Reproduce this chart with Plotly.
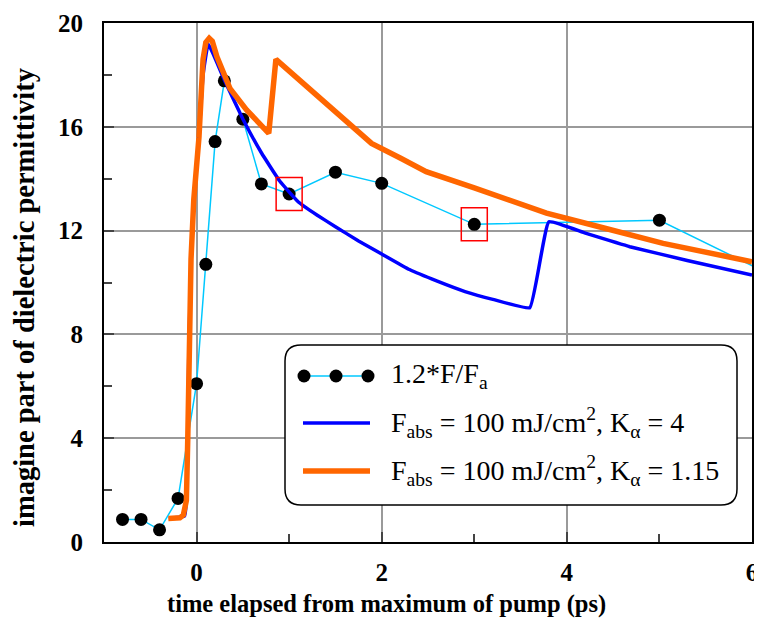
import plotly.graph_objects as go

# ---- data ----
t_meas = [-0.8, -0.6, -0.4, -0.2, 0.0, 0.1, 0.2, 0.3, 0.5, 0.7, 1.0, 1.5, 2.0, 3.0, 5.0, 7.0]
eps_meas = [0.87, 0.87, 0.47, 1.68, 6.1, 10.7, 15.43, 17.77, 16.29, 13.8, 13.41, 14.25, 13.82, 12.24, 12.4, 8.9]
highlight_idx = [10, 13]  # points marked with red squares (t = 1 ps and 3 ps)

t_blue = [-0.3, -0.13, -0.11, -0.095, -0.085, -0.06, -0.03, 0.026, 0.07, 0.126, 0.3, 0.5,
          0.7, 0.9, 1.1, 1.3, 1.5, 1.75, 2.0, 2.3, 2.6, 2.9, 3.2, 3.6, 3.806, 4.2, 4.68, 5.3, 6.0]
eps_blue = [0.9, 1.0, 1.6, 4.0, 7.0, 10.9, 13.2, 15.6, 18.0, 19.19, 17.8, 16.3,
            15.0, 13.9, 13.1, 12.6, 12.15, 11.6, 11.1, 10.5, 10.05, 9.65, 9.35, 9.03, 12.34, 11.9, 11.38, 10.85, 10.29]

t_orange = [-0.305, -0.18, -0.143, -0.11, -0.095, -0.085, -0.06, -0.03, 0.026, 0.07, 0.1, 0.137,
            0.17, 0.22, 0.36, 0.54, 0.78, 0.857, 1.89, 2.2, 2.48, 3.0, 3.78, 4.4, 5.04, 6.0]
eps_orange = [0.91, 0.93, 1.04, 1.6, 4.0, 7.0, 10.9, 13.2, 15.6, 18.6, 19.25, 19.41,
              19.3, 18.7, 17.48, 16.65, 15.75, 18.6, 15.36, 14.8, 14.27, 13.65, 12.67, 12.1, 11.51, 10.8]

x_ticks = [0, 2, 4, 6]
y_ticks = [0, 4, 8, 12, 16, 20]
x_minor = [1, 3, 5]
y_minor = [2, 6, 10, 14, 18]

legend_labels = [
    "1.2*F/F<sub>a</sub>",
    "F<sub>abs</sub> = 100 mJ/cm<sup>2</sup>, K<sub>α</sub> = 4",
    "F<sub>abs</sub> = 100 mJ/cm<sup>2</sup>, K<sub>α</sub> = 1.15",
]

# ---- style ----
FONT = "Liberation Serif"
CYAN = "#00C8FF"
BLUE = "#0000FF"
ORANGE = "#FF6600"
OFF = 8  # page body margin offsets the figure on screen
W, H = 762 - OFF, 619 - OFF
# plot area in screen pixels
SL, SR, ST, SB = 104, 752, 23, 542
ML, MT = SL - OFF, ST - OFF
MR, MB = W - (SR - OFF), H - (SB - OFF)
PW, PH = SR - SL, SB - ST


def px(xs):
    return (xs - SL) / PW


def py(ys):
    return (SB - ys) / PH


fig = go.Figure()
fig.add_trace(go.Scatter(x=t_meas, y=eps_meas, mode="lines+markers",
                         line=dict(color=CYAN, width=1.5),
                         marker=dict(color="black", size=13), showlegend=False))
fig.add_trace(go.Scatter(x=t_blue, y=eps_blue, mode="lines",
                         line=dict(color=BLUE, width=3.5, shape="spline", smoothing=0.3),
                         showlegend=False))
fig.add_trace(go.Scatter(x=t_orange, y=eps_orange, mode="lines",
                         line=dict(color=ORANGE, width=5.5), showlegend=False))

shapes = []
# red squares around highlighted points
for i in highlight_idx:
    shapes.append(dict(type="rect", xref="x", yref="y",
                       xsizemode="pixel", ysizemode="pixel",
                       xanchor=t_meas[i], yanchor=eps_meas[i],
                       x0=-13, x1=13, y0=-16.5, y1=16.5,
                       line=dict(color="red", width=1.5), layer="above"))

# legend box (rounded)
bx0, bx1, by0, by1, r = 285, 737, 345, 505, 16
X0, X1, Y0, Y1 = px(bx0), px(bx1), py(by1), py(by0)
rx, ry = r / PW, r / PH
path = (f"M {X0+rx},{Y0} L {X1-rx},{Y0} Q {X1},{Y0} {X1},{Y0+ry} "
        f"L {X1},{Y1-ry} Q {X1},{Y1} {X1-rx},{Y1} L {X0+rx},{Y1} "
        f"Q {X0},{Y1} {X0},{Y1-ry} L {X0},{Y0+ry} Q {X0},{Y0} {X0+rx},{Y0} Z")
shapes.append(dict(type="path", xref="paper", yref="paper", path=path,
                   fillcolor="white", line=dict(color="black", width=1.5), layer="above"))

legend_rows = [376, 423, 471]
# sample 1: cyan line with three dots
shapes.append(dict(type="line", xref="paper", yref="paper",
                   x0=px(304), x1=px(368), y0=py(legend_rows[0]), y1=py(legend_rows[0]),
                   line=dict(color=CYAN, width=1.5), layer="above"))
for cx in (304, 336, 368):
    shapes.append(dict(type="circle", xref="paper", yref="paper",
                       xsizemode="pixel", ysizemode="pixel",
                       xanchor=px(cx), yanchor=py(legend_rows[0]),
                       x0=-6.5, x1=6.5, y0=-6.5, y1=6.5,
                       fillcolor="black", line=dict(color="black", width=0), layer="above"))
shapes.append(dict(type="line", xref="paper", yref="paper",
                   x0=px(303), x1=px(370), y0=py(legend_rows[1]), y1=py(legend_rows[1]),
                   line=dict(color=BLUE, width=3.5), layer="above"))
shapes.append(dict(type="line", xref="paper", yref="paper",
                   x0=px(303), x1=px(370), y0=py(legend_rows[2]), y1=py(legend_rows[2]),
                   line=dict(color=ORANGE, width=5.5), layer="above"))

annotations = []
for lab, yr in zip(legend_labels, legend_rows):
    annotations.append(dict(text=lab, xref="paper", yref="paper", x=px(389), y=py(yr - 1),
                            xanchor="left", yanchor="middle", showarrow=False,
                            font=dict(family=FONT, size=28, color="black")))
annotations.append(dict(text="imagine part of dielectric permittivity", textangle=-90,
                        xref="paper", yref="paper", x=px(25), y=py(298),
                        xanchor="center", yanchor="middle", showarrow=False,
                        font=dict(family=FONT, size=28.5, color="black", weight="bold")))
annotations.append(dict(text="time elapsed from maximum of pump (ps)",
                        xref="paper", yref="paper", x=px(386), y=py(604),
                        xanchor="center", yanchor="middle", showarrow=False,
                        font=dict(family=FONT, size=24.5, color="black", weight="bold")))

axis_common = dict(showline=True, linecolor="black", linewidth=2, mirror=True,
                   showgrid=True, gridcolor="#9a9a9a", gridwidth=1.5,
                   ticks="inside", ticklen=10, tickwidth=2, tickcolor="#444",
                   zeroline=False, automargin=False,
                   tickfont=dict(family=FONT, size=25, color="black", weight="bold"))

fig.update_layout(
    width=W, height=H, margin=dict(l=ML, r=MR, t=MT, b=MB, autoexpand=False),
    paper_bgcolor="white", plot_bgcolor="white",
    font=dict(family=FONT, color="black"),
    showlegend=False,
    xaxis=dict(range=[-1, 6], tickmode="array", tickvals=x_ticks,
               ticktext=[str(v) for v in x_ticks], ticklabelstandoff=7,
               minor=dict(tickmode="array", tickvals=x_minor, ticks="inside", ticklen=8,
                          tickwidth=1.5, tickcolor="#444", showgrid=False),
               **axis_common),
    yaxis=dict(range=[0, 20], tickmode="array", tickvals=y_ticks,
               ticktext=[str(v) for v in y_ticks], ticklabelstandoff=14,
               minor=dict(tickmode="array", tickvals=y_minor, ticks="inside", ticklen=8,
                          tickwidth=1.5, tickcolor="#444", showgrid=False),
               **axis_common),
    shapes=shapes, annotations=annotations,
)

fig.write_html("out.html")
